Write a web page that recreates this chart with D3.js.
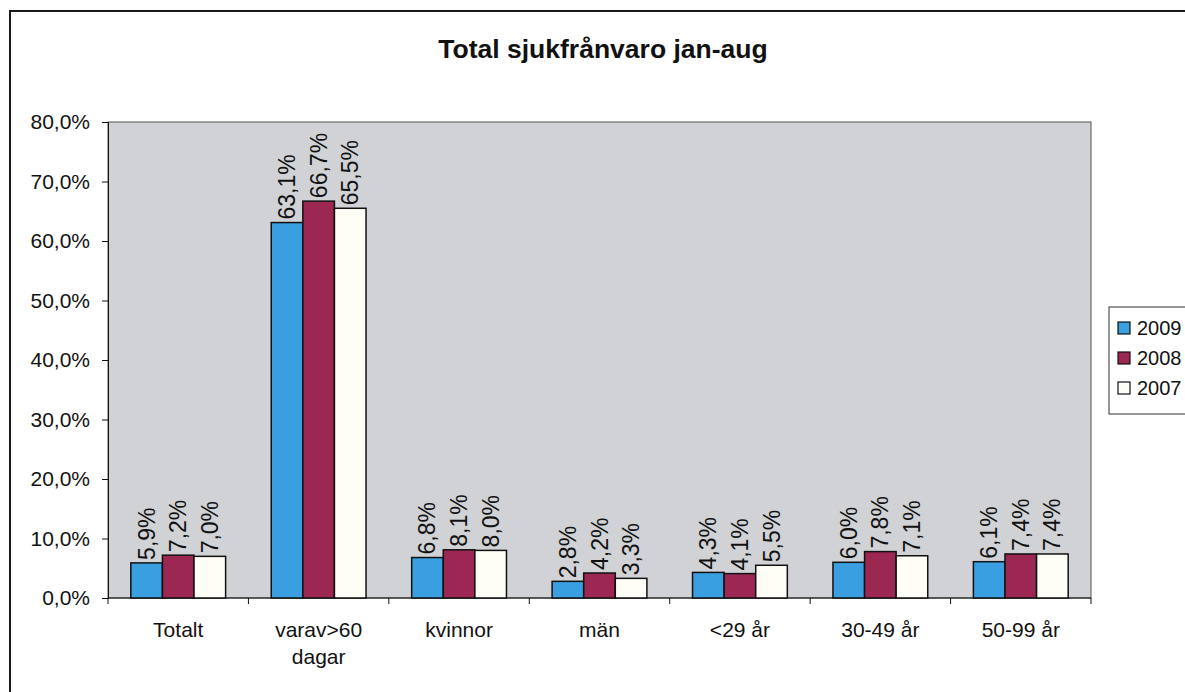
<!DOCTYPE html>
<html>
<head>
<meta charset="utf-8">
<script src="https://cdn.jsdelivr.net/npm/d3@7"></script>
<style>
  body { margin: 0; background: #fff; }
  text { font-family: "Liberation Sans", Arial, sans-serif; fill: #111; }
</style>
</head>
<body>
<div id="chart"></div>
<script>
// chart data
const categories = ["Totalt", "varav>60 dagar", "kvinnor", "män", "<29 år", "30-49 år", "50-99 år"];
const series = ["2009", "2008", "2007"];
const values2009 = [5.9, 63.1, 6.8, 2.8, 4.3, 6.0, 6.1];
const values2008 = [7.2, 66.7, 8.1, 4.2, 4.1, 7.8, 7.4];
const values2007 = [7.0, 65.5, 8.0, 3.3, 5.5, 7.1, 7.4];
const yTicks = [0, 10, 20, 30, 40, 50, 60, 70, 80];
const colors = ["#3a9fe0", "#9b2752", "#fffef6"];

const allValues = [values2009, values2008, values2007];

const width = 1185, height = 692;
const margin = {top: 122, right: 94, bottom: 94, left: 108};

const svg = d3.select("#chart").append("svg")
    .attr("width", width)
    .attr("height", height);

// outer frame
svg.append("rect")
    .attr("x", 10).attr("y", 11)
    .attr("width", 1300).attr("height", 800)
    .attr("fill", "none")
    .attr("stroke", "#1a1a1a")
    .attr("stroke-width", 2);

// title
svg.append("text")
    .attr("x", 603).attr("y", 58)
    .attr("text-anchor", "middle")
    .style("font-size", "26.5px")
    .style("font-weight", "bold")
    .text("Total sjukfrånvaro jan-aug");

const plotW = width - margin.left - margin.right;
const plotH = height - margin.top - margin.bottom;

const g = svg.append("g").attr("transform", "translate(" + margin.left + "," + margin.top + ")");

const x0 = d3.scaleBand().domain(categories).range([0, plotW]).padding(0);
const x1 = d3.scaleBand().domain(series)
    .range([x0.bandwidth() * 0.1625, x0.bandwidth() * 0.8375]).padding(0);
const y = d3.scaleLinear().domain([0, 80]).range([plotH, 0]);

const fmt = d3.formatLocale({decimal: ",", thousands: " ", grouping: [3], currency: ["", ""]});
const pct = v => fmt.format(".1f")(v) + "%";

// plot background
g.append("rect")
    .attr("width", plotW).attr("height", plotH)
    .attr("fill", "#d0d2d5")
    .attr("stroke", "#555")
    .attr("stroke-width", 1);

// y axis
const yAxis = g.append("g")
    .call(d3.axisLeft(y).tickValues(yTicks).tickSize(6).tickPadding(12).tickFormat(pct));
yAxis.selectAll("text").style("font-size", "21px");
yAxis.selectAll("line, path").attr("stroke", "#111");

// x axis: ticks between categories
const xAxis = g.append("g").attr("transform", "translate(0," + plotH + ")");
xAxis.append("line").attr("x1", 0).attr("x2", plotW).attr("stroke", "#111");
xAxis.selectAll(".tk")
    .data(d3.range(categories.length + 1))
    .enter().append("line")
    .attr("x1", i => i < categories.length ? x0(categories[i]) : plotW)
    .attr("x2", i => i < categories.length ? x0(categories[i]) : plotW)
    .attr("y1", 0).attr("y2", 6)
    .attr("stroke", "#111");

const xLabels = xAxis.selectAll(".lbl")
    .data(categories)
    .enter().append("text")
    .attr("text-anchor", "middle")
    .attr("transform", d => "translate(" + (x0(d) + x0.bandwidth() / 2) + ",39)")
    .style("font-size", "21px");
xLabels.each(function(d) {
    const parts = d === "varav>60 dagar" ? ["varav>60", "dagar"] : [d];
    d3.select(this).selectAll("tspan")
        .data(parts)
        .enter().append("tspan")
        .attr("x", 0)
        .attr("dy", (p, i) => i === 0 ? 0 : 27)
        .text(p => p);
});

// bars
const groups = g.selectAll(".grp")
    .data(categories)
    .enter().append("g")
    .attr("transform", d => "translate(" + x0(d) + ",0)");

groups.selectAll("rect")
    .data((d, ci) => series.map((s, si) => ({s: s, si: si, v: allValues[si][ci]})))
    .enter().append("rect")
    .attr("x", d => x1(d.s))
    .attr("y", d => y(d.v))
    .attr("width", x1.bandwidth())
    .attr("height", d => plotH - y(d.v))
    .attr("fill", d => colors[d.si])
    .attr("stroke", "#111")
    .attr("stroke-width", 1.5);

// data labels, rotated
groups.selectAll(".val")
    .data((d, ci) => series.map((s, si) => ({s: s, si: si, v: allValues[si][ci]})))
    .enter().append("text")
    .attr("transform", d => "translate(" + (x1(d.s) + x1.bandwidth() / 2 + 8) + "," + (y(d.v) - 3) + ") rotate(-90)")
    .attr("text-anchor", "start")
    .style("font-size", "23px")
    .text(d => pct(d.v));

// legend
const legend = svg.append("g").attr("transform", "translate(1109,307)");
legend.append("rect")
    .attr("width", 120).attr("height", 107)
    .attr("fill", "#fff")
    .attr("stroke", "#333")
    .attr("stroke-width", 1);
const items = legend.selectAll(".item")
    .data(series)
    .enter().append("g")
    .attr("transform", (d, i) => "translate(9," + (21 + i * 30) + ")");
items.append("rect")
    .attr("x", 0).attr("y", -6)
    .attr("width", 12).attr("height", 12)
    .attr("fill", (d, i) => colors[i])
    .attr("stroke", "#111")
    .attr("stroke-width", 1.2);
items.append("text")
    .attr("x", 19).attr("y", 7)
    .style("font-size", "20px")
    .text(d => d);
</script>
</body>
</html>
